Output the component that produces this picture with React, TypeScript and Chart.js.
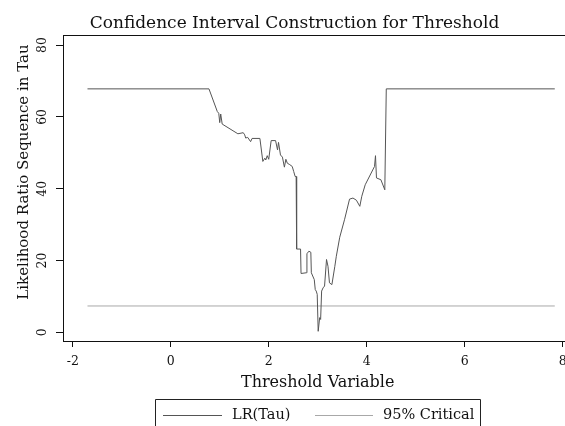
import React, { useEffect, useRef } from "react";
import { Chart, registerables } from "chart.js";

Chart.register(...registerables);

// ---- data ----
const thresholdValues = [
  -1.7, 0.78, 0.95, 0.98, 1.0, 1.02, 1.05, 1.37, 1.48, 1.51, 1.53, 1.57, 1.63, 1.66, 1.82,
  1.88, 1.92, 1.94, 1.97, 2.0, 2.05, 2.14, 2.18, 2.2, 2.24, 2.28, 2.32, 2.35, 2.38, 2.43,
  2.48, 2.51, 2.54, 2.56, 2.57, 2.65, 2.66, 2.77, 2.78, 2.82, 2.86, 2.87, 2.93, 2.95, 2.97,
  2.99, 3.01, 3.04, 3.06, 3.08, 3.11, 3.14, 3.18, 3.21, 3.24, 3.29, 3.35, 3.38, 3.45, 3.55,
  3.65, 3.72, 3.79, 3.86, 3.9, 3.97, 4.16, 4.18, 4.2, 4.29, 4.37, 4.4, 7.84,
];
const lrValues = [
  67.8, 67.8, 61.5, 61.0, 58.4, 60.8, 58.0, 55.3, 55.6, 55.0, 54.1, 54.3, 53.1, 54.0, 54.0,
  47.6, 48.5, 48.0, 49.2, 48.2, 53.4, 53.4, 50.8, 52.9, 49.4, 48.8, 46.0, 48.2, 47.1, 46.7,
  46.2, 44.8, 43.4, 43.4, 23.2, 23.2, 16.4, 16.6, 21.9, 22.6, 22.3, 16.6, 14.7, 11.9, 11.5,
  10.6, 0.3, 4.1, 3.6, 11.5, 12.4, 12.9, 20.3, 18.4, 13.8, 13.3, 18.4, 21.2, 26.5, 31.5,
  37.1, 37.4, 36.8, 35.1, 37.9, 41.1, 46.2, 49.2, 43.0, 42.5, 39.7, 67.8, 67.8,
];
const criticalX = [-1.7, 7.84];
const criticalValues = [7.35, 7.35];
const xTickValues = [-2, 0, 2, 4, 6, 8];
const yTickValues = [0, 20, 40, 60, 80];
const seriesLabels = ["LR(Tau)", "95% Critical"];
const chartTitle = "Confidence Interval Construction for Threshold";
const xAxisTitle = "Threshold Variable";
const yAxisTitle = "Likelihood Ratio Sequence in Tau";

const SERIF = '"DejaVu Serif", "Liberation Serif", serif';
const INK = "#111111";
const LR_COLOR = "#555555";
const CRIT_COLOR = "#a8a8a8";

const decorPlugin = {
  id: "decor",
  afterDraw(chart: any) {
    const { ctx, chartArea: a } = chart;
    ctx.save();
    // plot frame (top and right)
    ctx.strokeStyle = INK;
    ctx.lineWidth = 1;
    ctx.beginPath();
    ctx.moveTo(a.left, Math.round(a.top) + 0.5);
    ctx.lineTo(a.right, Math.round(a.top) + 0.5);
    ctx.moveTo(Math.round(a.right) - 0.5, a.top);
    ctx.lineTo(Math.round(a.right) - 0.5, a.bottom);
    ctx.stroke();

    // title
    ctx.fillStyle = INK;
    ctx.font = `17px ${SERIF}`;
    ctx.textAlign = "center";
    ctx.textBaseline = "alphabetic";
    ctx.fillText(chartTitle, 294.5, 28);

    // y-axis title
    ctx.save();
    ctx.translate(24, 172);
    ctx.rotate(-Math.PI / 2);
    ctx.font = `15px ${SERIF}`;
    ctx.textBaseline = "middle";
    ctx.fillText(yAxisTitle, 0, 0);
    ctx.restore();

    // legend box
    ctx.strokeStyle = "#222222";
    ctx.beginPath();
    ctx.rect(155.5, 399.5, 325, 60);
    ctx.stroke();
    const ds = chart.data.datasets;
    const ly = 415.5;
    const items = [
      { x0: 163, x1: 222, tx: 232 },
      { x0: 315, x1: 373, tx: 383 },
    ];
    ctx.font = `14.5px ${SERIF}`;
    ctx.textAlign = "left";
    ctx.textBaseline = "middle";
    items.forEach((it, i) => {
      ctx.strokeStyle = ds[i].borderColor;
      ctx.lineWidth = 1;
      ctx.beginPath();
      ctx.moveTo(it.x0, ly);
      ctx.lineTo(it.x1, ly);
      ctx.stroke();
      ctx.fillStyle = INK;
      ctx.fillText(ds[i].label, it.tx, ly);
    });
    ctx.restore();
  },
};

export default function App() {
  const ref = useRef<HTMLCanvasElement | null>(null);

  useEffect(() => {
    if (!ref.current) return;
    const lrData = thresholdValues.map((x, i) => ({ x, y: lrValues[i] }));
    const critData = criticalX.map((x, i) => ({ x, y: criticalValues[i] }));
    const chart = new Chart(ref.current, {
      type: "line",
      data: {
        datasets: [
          {
            label: seriesLabels[0],
            data: lrData,
            borderColor: LR_COLOR,
            borderWidth: 1,
            pointRadius: 0,
            tension: 0,
            fill: false,
          },
          {
            label: seriesLabels[1],
            data: critData,
            borderColor: CRIT_COLOR,
            borderWidth: 1,
            pointRadius: 0,
            tension: 0,
            fill: false,
          },
        ],
      },
      options: {
        animation: false,
        responsive: false,
        devicePixelRatio: 1,
        layout: { padding: { top: 35, right: 7.6, left: 0, bottom: 0 } },
        plugins: {
          legend: { display: false },
          title: { display: false },
          tooltip: { enabled: false },
        },
        scales: {
          x: {
            type: "linear",
            min: -2.2,
            max: 8.2,
            afterBuildTicks: (s: any) => {
              s.ticks = xTickValues.map((v) => ({ value: v }));
            },
            afterFit: (s: any) => {
              s.height = 85;
            },
            grid: {
              drawOnChartArea: false,
              drawTicks: true,
              tickLength: 6,
              color: INK,
            },
            border: { display: true, color: INK, width: 1 },
            ticks: {
              autoSkip: false,
              maxRotation: 0,
              padding: 7,
              color: INK,
              font: { family: SERIF, size: 12.5 },
            },
            title: {
              display: true,
              text: xAxisTitle,
              color: INK,
              font: { family: SERIF, size: 16 },
              padding: { top: 0, bottom: 34 },
            },
          },
          y: {
            type: "linear",
            min: -2.4,
            max: 82.8,
            afterBuildTicks: (s: any) => {
              s.ticks = yTickValues.map((v) => ({ value: v }));
            },
            afterFit: (s: any) => {
              s.width = 63;
            },
            grid: {
              drawOnChartArea: false,
              drawTicks: true,
              tickLength: 7,
              color: INK,
            },
            border: { display: true, color: INK, width: 1 },
            ticks: {
              minRotation: 90,
              maxRotation: 90,
              crossAlign: "center",
              padding: 5,
              color: INK,
              font: { family: SERIF, size: 12.5 },
            },
          },
        },
      },
      plugins: [decorPlugin],
    } as any);
    return () => chart.destroy();
  }, []);

  return (
    <div
      style={{
        position: "fixed",
        left: 0,
        top: 0,
        width: 565,
        height: 426,
        overflow: "hidden",
        background: "#ffffff",
      }}
    >
      <canvas ref={ref} width={580} height={426} style={{ display: "block", width: 580, height: 426 }} />
    </div>
  );
}
